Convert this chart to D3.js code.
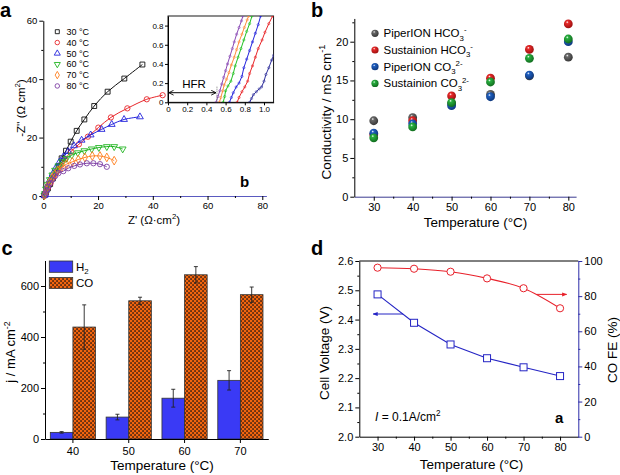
<!DOCTYPE html>
<html><head><meta charset="utf-8">
<script src="https://cdn.jsdelivr.net/npm/d3@7"></script>
<style>body{margin:0;background:#fff}</style>
</head><body>
<script>
// ================= DATA =================
// Panel a : Nyquist plots
const aTemps = ["30 °C","40 °C","50 °C","60 °C","70 °C","80 °C"];
const nyq30 = [[0.3,0.2],[0.6,0.6],[1,1.3],[1.7,2.6],[2.5,4.1],[3.5,6],[4.5,8],[5.6,10.2],[6.7,12.9],[8.3,15.5],[10,18.6],[12.2,22.3],[15,26.2],[18.6,30.8],[23.5,35.7],[29.6,40.2],[36.2,45]];
const nyq40 = [[0.4,0.2],[0.7,0.5],[1.1,1.5],[1.8,3],[2.7,4.5],[3.8,6.5],[5,8.5],[6.3,10.5],[7.9,12.5],[10.1,15.2],[13,17.7],[16.3,20.3],[20.1,23.4],[24.7,26.9],[30.7,30],[37.8,33.1],[43.6,34.5]];
const nyq50 = [[0.4,0.2],[0.7,0.6],[1,2],[1.6,3.6],[2.4,5.5],[3.4,7.5],[4.5,9.5],[5.8,11.5],[7.3,13.4],[9.1,15.2],[11.2,17.2],[14,19.1],[17.3,20.9],[21.3,22.8],[25,24.5],[29.5,26.2],[35.3,27.1]];
const nyq60 = [[0.4,0.2],[0.6,0.8],[1,2.4],[1.6,4],[2.4,5.6],[3.3,7.2],[4.3,8.8],[5.5,10.3],[6.9,11.7],[8.5,12.9],[10.4,14],[12.6,14.8],[15,15.5],[17.7,16.1],[20.3,16.6],[23.2,16.9],[25.9,16.9],[29,16.1]];
const nyq70 = [[0.4,0.2],[0.6,0.6],[1,2],[1.6,3.4],[2.3,4.8],[3.2,6.2],[4.2,7.5],[5.3,8.7],[6.7,9.8],[8.5,10.9],[10.6,11.7],[12.8,12.5],[15.2,13.2],[17.9,13.7],[20.7,13.7],[23.2,13.2],[25.9,12.1]];
const nyq80 = [[0.4,0.2],[0.7,0.9],[1.1,2],[1.7,3.2],[2.4,4.4],[3.3,5.6],[4.3,6.8],[5.5,7.8],[7.3,8.5],[9.1,9.5],[11.3,10.3],[13.4,10.8],[15.9,11.2],[18.3,11.2],[20.7,10.9],[23.2,10]];
const aXTicks = [0,20,40,60,80], aXMinor = [10,30,50,70];
const aYTicks = [0,20,40,60], aYMinor = [10,30,50];
// Panel a inset (high-frequency region)
const hfr30 = [[0.85,0],[0.87,0.04],[0.89,0.08],[0.92,0.11],[0.95,0.14],[0.975,0.16],[1.0,0.22],[1.02,0.29],[1.05,0.36],[1.08,0.44],[1.10,0.49]];
const hfr40 = [[0.72,0],[0.74,0.05],[0.77,0.11],[0.80,0.16],[0.83,0.22],[0.85,0.30],[0.88,0.38],[0.91,0.47],[0.94,0.56],[0.98,0.65],[1.01,0.73],[1.05,0.82],[1.09,0.9]];
const hfr50 = [[0.64,0],[0.66,0.05],[0.68,0.10],[0.71,0.16],[0.74,0.20],[0.77,0.27],[0.79,0.36],[0.82,0.45],[0.85,0.54],[0.88,0.63],[0.91,0.72],[0.94,0.81],[0.965,0.9]];
const hfr60 = [[0.575,0],[0.59,0.06],[0.60,0.12],[0.625,0.17],[0.655,0.22],[0.68,0.30],[0.70,0.38],[0.73,0.47],[0.76,0.56],[0.79,0.65],[0.82,0.74],[0.85,0.82],[0.875,0.9]];
const hfr70 = [[0.535,0],[0.55,0.05],[0.57,0.12],[0.585,0.18],[0.61,0.24],[0.635,0.31],[0.66,0.39],[0.69,0.47],[0.715,0.55],[0.74,0.63],[0.77,0.71],[0.795,0.78],[0.825,0.86],[0.84,0.9]];
const hfr80 = [[0.50,0],[0.52,0.06],[0.54,0.12],[0.56,0.19],[0.58,0.26],[0.60,0.33],[0.62,0.40],[0.645,0.48],[0.67,0.56],[0.69,0.63],[0.715,0.71],[0.74,0.78],[0.765,0.85],[0.78,0.9]];
const insetXTicks = [0,0.2,0.4,0.6,0.8,1.0];
const insetYTicks = [0,0.2,0.4,0.6,0.8];
const hfrArrow = [0, 0.5, 0.1];       // from x, to x, at y
const hfrMarkLine = [0.51, 0, 0.17];  // x, y from, y to

// Panel b : conductivity
const bTemps = [30,40,50,60,70,80];
const piperHCO3 = [9.8,10.2,12.0,13.2,15.6,18.0];
const sustHCO3  = [8.0,9.8,13.0,15.3,19.0,22.3];
const piperCO3  = [8.2,9.4,11.75,12.9,15.7,20.0];
const sustCO3   = [7.6,9.0,12.15,14.8,17.85,20.35];
const bXTicks = [30,40,50,60,70,80], bXMinor = [35,45,55,65,75];
const bYTicks = [0,5,10,15,20];

// Panel c : partial current densities
const cTemps = ["40","50","60","70"];
const h2Vals = [26,86,160,230], h2Err = [3,11,35,38];
const coVals = [439,542,644,566], coErr = [87,14,32,30];
const cYTicks = [0,200,400,600], cYMinor = [100,300,500];

// Panel d : cell voltage & CO FE
const dTemps = [30,40,50,60,70,80];
const cellVoltage = [2.486,2.389,2.315,2.268,2.237,2.207];
const coFE = [96.2,95.6,93.9,90.1,84.5,73.1];
const dXTicks = [30,40,50,60,70,80], dXMinor = [35,45,55,65,75];
const dYLTicks = [2.0,2.1,2.2,2.3,2.4,2.5,2.6], dYLMinor = [2.05,2.15,2.25,2.35,2.45,2.55];
const dYRTicks = [0,20,40,60,80,100], dYRMinor = [10,30,50,70,90];
const feArrow = [73.6, 81.8, 81];      // x from, x to, y (right axis)
const cvArrow = [37.0, 28.8, 2.419];   // x from, x to, y (left axis)

// ================= DRAWING =================
const FONT = "'Liberation Sans', Arial, Helvetica, sans-serif";
const svg = d3.select("body").append("svg").attr("width",620).attr("height",475)
  .style("font-family",FONT);
const defs = svg.append("defs");

function styleAxis(g, fs, color){
  color = color || "#000";
  g.attr("font-family",null).attr("font-size",null);
  g.selectAll(".domain").attr("stroke",color).attr("stroke-width",1);
  g.selectAll(".tick line").attr("stroke",color).attr("stroke-width",1);
  g.selectAll(".tick text").attr("fill","#000").style("font-size",fs+"px").style("font-family",FONT);
}
function minorAxis(parent, gen, tf, color){
  const g = parent.append("g").attr("transform",tf).call(gen.tickSize(2).tickFormat(""));
  g.select(".domain").remove();
  g.selectAll(".tick line").attr("stroke",color||"#000");
  return g;
}
function rich(t, parts, fs){
  let cur = 0;
  parts.forEach(p => {
    const k = p[1] || "n";
    const target = k==="sub" ? fs*0.3 : k==="sup" ? -fs*0.42 : 0;
    const ts = t.append("tspan").attr("dy", target-cur).style("font-size",(k==="n"?fs:fs*0.68)+"px").text(p[0]);
    if (p[2]) ts.style("font-style", p[2]);
    cur = target;
  });
  return t;
}
function panelLabel(x,y,txt,fs){
  svg.append("text").attr("x",x).attr("y",y).style("font-weight","bold").style("font-size",fs+"px").text(txt);
}

// ---------- Panel a ----------
{
  const xA = d3.scaleLinear([0,81.5],[43.3,266.4]);
  const yA = d3.scaleLinear([0,60],[196,20.7]);
  const g = svg.append("g");
  const colors = ["#111111","#e8262a","#2424dc","#22b522","#ff7f1e","#7e3fa5"];
  const syms = [d3.symbolSquare,d3.symbolCircle,d3.symbolTriangle,d3.symbolTriangle,d3.symbolDiamond,d3.symbolCircle];
  const rots = [0,0,0,180,0,0];
  const sizes = [24,22,20,20,22,22];
  const series = [nyq30,nyq40,nyq50,nyq60,nyq70,nyq80];
  const line = d3.line().x(d=>xA(d[0])).y(d=>yA(d[1])).curve(d3.curveCatmullRom);

  g.append("g").attr("transform",`translate(0,${yA(0)})`)
    .call(d3.axisBottom(xA).tickValues(aXTicks).tickSize(4).tickSizeOuter(0).tickPadding(2))
    .call(s=>styleAxis(s,9.5));
  g.select(".domain").attr("stroke","#5a5ac0");
  minorAxis(g, d3.axisBottom(xA).tickValues(aXMinor), `translate(0,${yA(0)})`);
  g.append("g").attr("transform",`translate(${xA(0)},0)`)
    .call(d3.axisLeft(yA).tickValues(aYTicks).tickSize(4).tickSizeOuter(0).tickPadding(2))
    .call(s=>styleAxis(s,9.5));
  minorAxis(g, d3.axisLeft(yA).tickValues(aYMinor), `translate(${xA(0)},0)`);

  series.forEach((s,i)=>{
    g.append("path").attr("d",line(s)).attr("fill","none").attr("stroke",colors[i]).attr("stroke-width",1);
    g.selectAll(null).data(s).join("path")
      .attr("d",d3.symbol().type(syms[i]).size(sizes[i]))
      .attr("transform",d=>`translate(${xA(d[0])},${yA(d[1])}) rotate(${rots[i]})`)
      .attr("fill","none").attr("stroke",colors[i]).attr("stroke-width",0.9);
  });

  // legend
  aTemps.forEach((t,i)=>{
    const yy = 31.7 + i*10.85;
    g.append("path").attr("d",d3.symbol().type(syms[i]).size(16)())
      .attr("transform",`translate(57.3,${yy}) rotate(${rots[i]})`)
      .attr("fill","none").attr("stroke",colors[i]).attr("stroke-width",0.9);
    g.append("text").attr("x",66.5).attr("y",yy+3.2).style("font-size","9px").text(t);
  });

  // titles
  rich(g.append("text").attr("text-anchor","middle").attr("transform","translate(24.5,108) rotate(-90)"),
    [["-Z'' (Ω cm"],["2","sup"],[")"]], 11.5);
  rich(g.append("text").attr("text-anchor","middle").attr("x",154).attr("y",224),
    [["Z'  (Ω·cm"],["2","sup"],[")"]], 11.5);
  g.append("text").attr("x",240).attr("y",186.5).style("font-weight","bold").style("font-size","15px").text("b");

  // inset
  const xI = d3.scaleLinear([0,1.1],[168,273.6]);
  const yI = d3.scaleLinear([0,0.9],[102.3,16]);
  const gi = svg.append("g");
  defs.append("clipPath").attr("id","clipI").append("rect")
    .attr("x",xI(0)).attr("y",yI(0.9)).attr("width",xI(1.1)-xI(0)).attr("height",yI(0)-yI(0.9));
  gi.append("rect").attr("x",xI(0)).attr("y",yI(0.9)).attr("width",xI(1.1)-xI(0)).attr("height",yI(0)-yI(0.9))
    .attr("fill","#fff").attr("stroke","#000").attr("stroke-width",0.9);
  const fmtI = d=> d===0 ? "0" : d3.format(".1f")(d);
  gi.append("g").attr("transform",`translate(0,${yI(0)})`)
    .call(d3.axisBottom(xI).tickValues(insetXTicks).tickFormat(fmtI).tickSize(3).tickSizeOuter(0).tickPadding(1.5))
    .call(s=>styleAxis(s,8));
  gi.append("g").attr("transform",`translate(${xI(0)},0)`)
    .call(d3.axisLeft(yI).tickValues(insetYTicks).tickFormat(fmtI).tickSize(3).tickSizeOuter(0).tickPadding(1.5))
    .call(s=>styleAxis(s,8));
  const icolors = ["#30309c","#e8262a","#2424dc","#22c022","#ff8a3a","#8a4ab5"];
  const lineI = d3.line().x(d=>xI(d[0])).y(d=>yI(d[1]));
  const gc = gi.append("g").attr("clip-path","url(#clipI)");
  [hfr30,hfr40,hfr50,hfr60,hfr70,hfr80].forEach((s,i)=>{
    gc.append("path").attr("d",lineI(s)).attr("fill","none").attr("stroke",icolors[i]).attr("stroke-width",1);
    gc.selectAll(null).data(s).join("circle").attr("cx",d=>xI(d[0])).attr("cy",d=>yI(d[1])).attr("r",1.1)
      .attr("fill","none").attr("stroke",icolors[i]).attr("stroke-width",0.6);
  });
  gc.append("line").attr("x1",xI(hfrMarkLine[0])).attr("x2",xI(hfrMarkLine[0]))
    .attr("y1",yI(hfrMarkLine[1])).attr("y2",yI(hfrMarkLine[2]))
    .attr("stroke","#777").attr("stroke-width",1).attr("stroke-dasharray","1,1");
  defs.append("marker").attr("id","vhead").attr("viewBox","0 0 10 10").attr("refX",9).attr("refY",5)
    .attr("markerWidth",6).attr("markerHeight",6).attr("orient","auto-start-reverse")
    .append("path").attr("d","M1,1 L9,5 L1,9").attr("fill","none").attr("stroke","#000").attr("stroke-width",1.4);
  gi.append("line").attr("x1",xI(hfrArrow[0])+0.8).attr("x2",xI(hfrArrow[1]))
    .attr("y1",yI(hfrArrow[2])).attr("y2",yI(hfrArrow[2]))
    .attr("stroke","#000").attr("stroke-width",1)
    .attr("marker-start","url(#vhead)").attr("marker-end","url(#vhead)");
  gi.append("text").attr("x",194).attr("y",87.5).attr("text-anchor","middle").style("font-size","11.5px").text("HFR");
}
panelLabel(0,16.7,"a",20);

// ---------- Panel b ----------
{
  const xB = d3.scaleLinear([25,82],[354.3,576.1]);
  const yB = d3.scaleLinear([0,23],[196.7,18.45]);
  const g = svg.append("g");
  g.append("g").attr("transform",`translate(0,${yB(0)})`)
    .call(d3.axisBottom(xB).tickValues(bXTicks).tickSize(4).tickSizeOuter(0).tickPadding(3))
    .call(s=>styleAxis(s,11));
  g.select(".domain").attr("stroke","#3a3a90");
  minorAxis(g, d3.axisBottom(xB).tickValues(bXMinor), `translate(0,${yB(0)})`);
  g.append("g").attr("transform",`translate(${xB(25)},0)`)
    .call(d3.axisLeft(yB).tickValues(bYTicks).tickSize(4).tickSizeOuter(0).tickPadding(2))
    .call(s=>styleAxis(s,11));
  minorAxis(g, d3.axisLeft(yB).tickValues([2.5,7.5,12.5,17.5,22.5]), `translate(${xB(25)},0)`);

  const cols = ["#6a6a6a","#e82a2a","#1f5fc0","#28b040"];
  const dark = ["#3a3a3a","#a01010","#0f3a80","#137020"];
  cols.forEach((c,i)=>{
    const gr = defs.append("radialGradient").attr("id","sph"+i).attr("cx","40%").attr("cy","38%").attr("r","60%").attr("fx","38%").attr("fy","30%");
    gr.append("stop").attr("offset","0%").attr("stop-color","#ffffff");
    gr.append("stop").attr("offset","25%").attr("stop-color",c);
    gr.append("stop").attr("offset","100%").attr("stop-color",dark[i]);
  });
  const series = [piperHCO3,sustHCO3,piperCO3,sustCO3];
  series.forEach((s,i)=>{
    g.selectAll(null).data(s).join("circle")
      .attr("cx",(d,j)=>xB(bTemps[j])).attr("cy",d=>yB(d)).attr("r",4.4)
      .attr("fill",`url(#sph${i})`);
  });
  const labels = [
    [["PiperION HCO"],["3","sub"],["-","sup"]],
    [["Sustainion HCO"],["3","sub"],["-","sup"]],
    [["PiperION CO"],["3","sub"],["2-","sup"]],
    [["Sustainion CO"],["3","sub"],["2-","sup"]]
  ];
  labels.forEach((l,i)=>{
    const yy = 33.3 + i*16.7;
    g.append("circle").attr("cx",375).attr("cy",yy).attr("r",3.6).attr("fill",`url(#sph${i})`);
    rich(g.append("text").attr("x",383.5).attr("y",yy+4), l, 11.5);
  });
  rich(g.append("text").attr("text-anchor","middle").attr("transform","translate(331,112) rotate(-90)"),
    [["Conductivity / mS cm"],["-1","sup"]], 13.5);
  g.append("text").attr("text-anchor","middle").attr("x",475.5).attr("y",226.5).style("font-size","13.5px").text("Temperature (°C)");
}
panelLabel(311,16.7,"b",20);

// ---------- Panel c ----------
{
  const xC = d3.scaleBand(cTemps,[45,268.3]).paddingInner(0.19).paddingOuter(0.095);
  const sub = d3.scaleBand(["H2","CO"],[0,xC.bandwidth()]);
  const yC = d3.scaleLinear([0,700],[439,260.5]);
  const g = svg.append("g");
  const T = 4;
  const pat = defs.append("pattern").attr("id","chk").attr("patternUnits","userSpaceOnUse")
    .attr("width",T).attr("height",T);
  pat.append("rect").attr("width",T).attr("height",T).attr("fill","#f2650e");
  pat.append("rect").attr("x",0.2).attr("y",0.2).attr("width",1.7).attr("height",1.7).attr("fill","#4a2410");
  pat.append("rect").attr("x",2.2).attr("y",2.2).attr("width",1.7).attr("height",1.7).attr("fill","#4a2410");
  const H2C = "#3a3af5";

  g.selectAll(null).data(h2Vals).join("rect")
    .attr("x",(d,i)=>xC(cTemps[i])+sub("H2")).attr("width",sub.bandwidth())
    .attr("y",d=>yC(d)).attr("height",d=>yC(0)-yC(d))
    .attr("fill",H2C).attr("stroke","#333").attr("stroke-width",0.8);
  g.selectAll(null).data(coVals).join("rect")
    .attr("x",(d,i)=>xC(cTemps[i])+sub("CO")).attr("width",sub.bandwidth())
    .attr("y",d=>yC(d)).attr("height",d=>yC(0)-yC(d))
    .attr("fill","url(#chk)").attr("stroke","#333").attr("stroke-width",0.8);
  function errs(vals, errsA, key){
    vals.forEach((v,i)=>{
      const cx = xC(cTemps[i])+sub(key)+sub.bandwidth()/2;
      const e = errsA[i];
      g.append("line").attr("x1",cx).attr("x2",cx).attr("y1",yC(v+e)).attr("y2",yC(v-e)).attr("stroke","#222").attr("stroke-width",0.9);
      [v+e,v-e].forEach(w=>g.append("line").attr("x1",cx-2).attr("x2",cx+2).attr("y1",yC(w)).attr("y2",yC(w)).attr("stroke","#222").attr("stroke-width",0.9));
    });
  }
  errs(h2Vals,h2Err,"H2"); errs(coVals,coErr,"CO");

  g.append("g").attr("transform",`translate(0,${yC(0)})`)
    .call(d3.axisBottom(xC).tickSize(4).tickSizeOuter(0).tickPadding(4))
    .call(s=>styleAxis(s,11));
  g.append("g").attr("transform",`translate(45,0)`)
    .call(d3.axisLeft(yC).tickValues(cYTicks).tickSize(4).tickSizeOuter(0).tickPadding(2))
    .call(s=>styleAxis(s,11));
  minorAxis(g, d3.axisLeft(yC).tickValues(cYMinor), `translate(45,0)`);

  g.append("rect").attr("x",49.3).attr("y",261).attr("width",23.4).attr("height",11.3).attr("fill",H2C).attr("stroke","#333").attr("stroke-width",0.8);
  rich(g.append("text").attr("x",76).attr("y",270.8), [["H"],["2","sub"]], 11.5);
  g.append("rect").attr("x",49.3).attr("y",277.5).attr("width",23.4).attr("height",11).attr("fill","url(#chk)").attr("stroke","#333").attr("stroke-width",0.8);
  g.append("text").attr("x",76).attr("y",287.2).style("font-size","11.5px").text("CO");

  rich(g.append("text").attr("text-anchor","middle").attr("transform","translate(15,352) rotate(-90)"),
    [["j / mA cm"],["-2","sup"]], 13);
  g.append("text").attr("text-anchor","middle").attr("x",162).attr("y",469.5).style("font-size","13.5px").text("Temperature (°C)");
}
panelLabel(1.5,255,"c",20);

// ---------- Panel d ----------
{
  const xD = d3.scaleLinear([25,85],[359.3,578.3]);
  const yL = d3.scaleLinear([2.0,2.6],[436.7,261]);
  const yR = d3.scaleLinear([0,100],[436.7,261]);
  const g = svg.append("g");
  const RED = "#e8202a", BLUE = "#2424c4", RAX = "#2c2ca8";

  g.append("line").attr("x1",xD(25)).attr("x2",xD(85)).attr("y1",yL(2.6)).attr("y2",yL(2.6)).attr("stroke","#000").attr("stroke-width",1);
  g.append("g").attr("transform",`translate(0,${yL(2.0)})`)
    .call(d3.axisBottom(xD).tickValues(dXTicks).tickSize(4).tickSizeOuter(0).tickPadding(3))
    .call(s=>styleAxis(s,11));
  minorAxis(g, d3.axisBottom(xD).tickValues(dXMinor), `translate(0,${yL(2.0)})`);
  g.append("g").attr("transform",`translate(${xD(25)},0)`)
    .call(d3.axisLeft(yL).tickValues(dYLTicks).tickFormat(d3.format(".1f")).tickSize(4).tickSizeOuter(0).tickPadding(2))
    .call(s=>styleAxis(s,11));
  minorAxis(g, d3.axisLeft(yL).tickValues(dYLMinor), `translate(${xD(25)},0)`);
  g.append("g").attr("transform",`translate(${xD(85)},0)`)
    .call(d3.axisRight(yR).tickValues(dYRTicks).tickSize(4).tickSizeOuter(0).tickPadding(2))
    .call(s=>styleAxis(s,11,RAX));
  minorAxis(g, d3.axisRight(yR).tickValues(dYRMinor), `translate(${xD(85)},0)`, RAX);

  const lineL = d3.line().x((d,i)=>xD(dTemps[i])).y(d=>yL(d));
  const lineR = d3.line().x((d,i)=>xD(dTemps[i])).y(d=>yR(d)).curve(d3.curveMonotoneX);
  g.append("path").attr("d",lineR(coFE)).attr("fill","none").attr("stroke",RED).attr("stroke-width",1.1);
  g.append("path").attr("d",lineL(cellVoltage)).attr("fill","none").attr("stroke",BLUE).attr("stroke-width",1.1);
  g.selectAll(null).data(coFE).join("circle").attr("cx",(d,i)=>xD(dTemps[i])).attr("cy",d=>yR(d)).attr("r",3.6)
    .attr("fill","#fff").attr("stroke",RED).attr("stroke-width",1);
  g.selectAll(null).data(cellVoltage).join("rect").attr("x",(d,i)=>xD(dTemps[i])-3.5).attr("y",d=>yL(d)-3.5)
    .attr("width",7).attr("height",7).attr("fill","#fff").attr("stroke",BLUE).attr("stroke-width",1);

  ["r","b"].forEach(k=>{
    defs.append("marker").attr("id","ah"+k).attr("viewBox","0 0 10 10").attr("refX",9).attr("refY",5)
      .attr("markerWidth",5).attr("markerHeight",5).attr("orient","auto")
      .append("path").attr("d","M0,1 L10,5 L0,9 Z").attr("fill",k==="r"?RED:BLUE);
  });
  g.append("line").attr("x1",xD(feArrow[0])).attr("x2",xD(feArrow[1])).attr("y1",yR(feArrow[2])).attr("y2",yR(feArrow[2]))
    .attr("stroke",RED).attr("stroke-width",1).attr("marker-end","url(#ahr)");
  g.append("line").attr("x1",xD(cvArrow[0])).attr("x2",xD(cvArrow[1])).attr("y1",yL(cvArrow[2])).attr("y2",yL(cvArrow[2]))
    .attr("stroke",BLUE).attr("stroke-width",1).attr("marker-end","url(#ahb)");

  rich(g.append("text").attr("x",375).attr("y",421), [["I","n","italic"],[" = 0.1A/cm"],["2","sup"]], 12);
  g.append("text").attr("x",555).attr("y",423).style("font-weight","bold").style("font-size","15px").text("a");

  g.append("text").attr("text-anchor","middle").attr("transform","translate(329,353) rotate(-90)").style("font-size","13.5px").text("Cell Voltage (V)");
  g.append("text").attr("text-anchor","middle").attr("transform","translate(617,350) rotate(-90)").style("font-size","13.5px").text("CO FE (%)");
  g.append("text").attr("text-anchor","middle").attr("x",471.5).attr("y",469.3).style("font-size","13.5px").text("Temperature (°C)");
}
panelLabel(311,255,"d",20);
</script>
</body></html>
